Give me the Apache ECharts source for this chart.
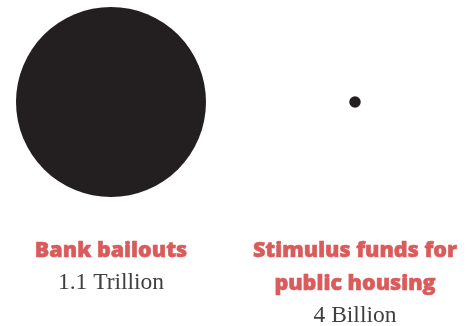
<!DOCTYPE html>
<html>
<head>
<meta charset="utf-8">
<style>
  html, body { margin: 0; padding: 0; background: #fff; }
  #chart { width: 474px; height: 326px; }
</style>
<script src="https://cdn.jsdelivr.net/npm/echarts@6/dist/echarts.min.js"></script>
</head>
<body>
<div id="chart"></div>
<script>
// amounts in billions of dollars
const categories = ['Bank bailouts', 'Stimulus funds for\npublic housing'];
const amounts = [1100, 4];
const amountLabels = ['1.1 Trillion', '4 Billion'];

const maxDiameter = 190;
const maxAmount = Math.max(...amounts);

const chart = echarts.init(document.getElementById('chart'));

chart.setOption({
  animation: false,
  grid: { left: 111, right: 119, top: 0, bottom: 122, outerBoundsMode: 'none' },
  xAxis: {
    type: 'category',
    data: categories,
    boundaryGap: false,
    axisLine: { show: false },
    axisTick: { show: false },
    splitLine: { show: false },
    axisLabel: {
      interval: 0,
      margin: 30,
      formatter: function (value, idx) {
        const lines = value.split('\n').map(l => '{name|' + l + '}');
        lines.push('{val|' + amountLabels[idx] + '}');
        return lines.join('\n');
      },
      rich: {
        name: {
          fontFamily: 'Open Sans',
          fontWeight: 800,
          fontSize: 21.5,
          color: '#d95b5b',
          textBorderColor: '#d95b5b',
          textBorderWidth: 0.6,
          lineHeight: 33
        },
        val: {
          fontFamily: 'Liberation Serif',
          fontSize: 23.5,
          color: '#404040',
          lineHeight: 32
        }
      }
    }
  },
  yAxis: {
    type: 'value',
    show: false,
    min: -1,
    max: 1
  },
  series: [
    {
      type: 'scatter',
      data: amounts.map((v, i) => [i, 0, v]),
      symbolSize: function (d) {
        return maxDiameter * Math.sqrt(d[2] / maxAmount);
      },
      itemStyle: { color: '#231f20', opacity: 1 },
      emphasis: { disabled: true }
    }
  ]
});
</script>
</body>
</html>
